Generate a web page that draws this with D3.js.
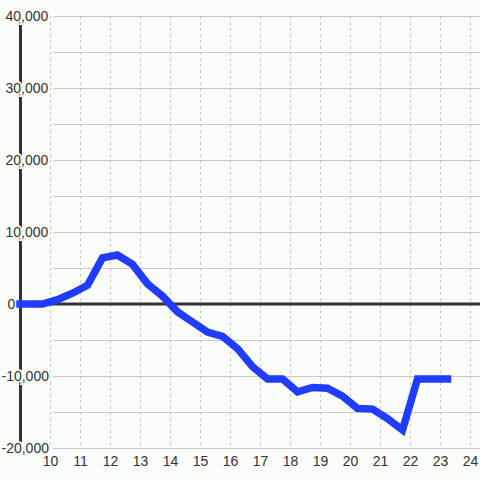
<!DOCTYPE html>
<html><head><meta charset="utf-8">
<script src="https://cdn.jsdelivr.net/npm/d3@7"></script>
<style>
html,body{margin:0;padding:0;background:#fbfdfb;}
svg{display:block;font-family:"Liberation Sans",Arial,sans-serif;}
</style></head>
<body><svg id="c" width="480" height="480"></svg>
<script>
const xValues = [9.0, 9.75, 10.25, 10.75, 11.25, 11.75, 12.25, 12.75, 13.25, 13.75, 14.25, 14.75, 15.25, 15.75, 16.25, 16.75, 17.25, 17.75, 18.25, 18.75, 19.25, 19.75, 20.25, 20.75, 21.25, 21.75, 22.25, 22.75, 23.25];
const yValues = [0, 0, 600, 1500, 2600, 6400, 6800, 5500, 2800, 1100, -1100, -2500, -3900, -4500, -6200, -8700, -10400, -10400, -12200, -11600, -11700, -12800, -14500, -14600, -15900, -17500, -10400, -10400, -10400];
const xTicks = [10, 11, 12, 13, 14, 15, 16, 17, 18, 19, 20, 21, 22, 23, 24];
const yLabelTicks = [-20000, -10000, 0, 10000, 20000, 30000, 40000];
const yGridTicks = [-20000, -15000, -10000, -5000, 0, 5000, 10000, 15000, 20000, 25000, 30000, 35000, 40000];

const svg = d3.select("#c");
const x = d3.scaleLinear().domain([9, 24 + 1/3]).range([20, 480]);
const y = d3.scaleLinear().domain([-20000, 40000]).range([448, 16]);
const fmt = d3.format(",");

// vertical dashed grid
svg.append("g").selectAll("line").data(xTicks).join("line")
  .attr("x1", d => Math.round(x(d)) + 0.5).attr("x2", d => Math.round(x(d)) + 0.5)
  .attr("y1", y(40000)).attr("y2", y(-20000))
  .attr("stroke", "#c8c8c8").attr("stroke-width", 1).attr("stroke-dasharray", "3,3");

// horizontal grid
svg.append("g").selectAll("line").data(yGridTicks.filter(d => d !== 0)).join("line")
  .attr("x1", 53).attr("x2", 480)
  .attr("y1", d => Math.round(y(d)) + 0.5).attr("y2", d => Math.round(y(d)) + 0.5)
  .attr("stroke", "#c8c8c8").attr("stroke-width", 1.2);

// y axis line
svg.append("line").attr("x1", x(9) + 0.5).attr("x2", x(9) + 0.5)
  .attr("y1", y(40000)).attr("y2", y(-20000))
  .attr("stroke", "#333").attr("stroke-width", 3);

// zero line
svg.append("line").attr("x1", 18).attr("x2", 480)
  .attr("y1", y(0)).attr("y2", y(0))
  .attr("stroke", "#333").attr("stroke-width", 3);

// y labels with halo
svg.append("g").selectAll("text").data(yLabelTicks).join("text")
  .attr("x", d => d < 0 ? 1.5 : (d === 0 ? 7.5 : 5.5))
  .attr("y", d => y(d) + 5)
  .attr("font-size", 14).attr("fill", "#333")
  .attr("stroke", "#fbfdfb").attr("stroke-width", 4).attr("paint-order", "stroke")
  .text(d => fmt(d).replace("−", "-"));

// x labels
svg.append("g").selectAll("text").data(xTicks).join("text")
  .attr("x", d => x(d) + 0.5).attr("y", 466)
  .attr("text-anchor", "middle").attr("font-size", 14).attr("fill", "#333")
  .text(d => d);

// data line
const pts = xValues.map((v, i) => [v, yValues[i]]);
svg.append("path").datum(pts)
  .attr("d", d3.line().x(d => x(d[0])).y(d => y(d[1])))
  .attr("fill", "none").attr("stroke", "#203cff").attr("stroke-width", 7.5)
  .attr("stroke-linecap", "square").attr("stroke-linejoin", "miter");
</script></body></html>
